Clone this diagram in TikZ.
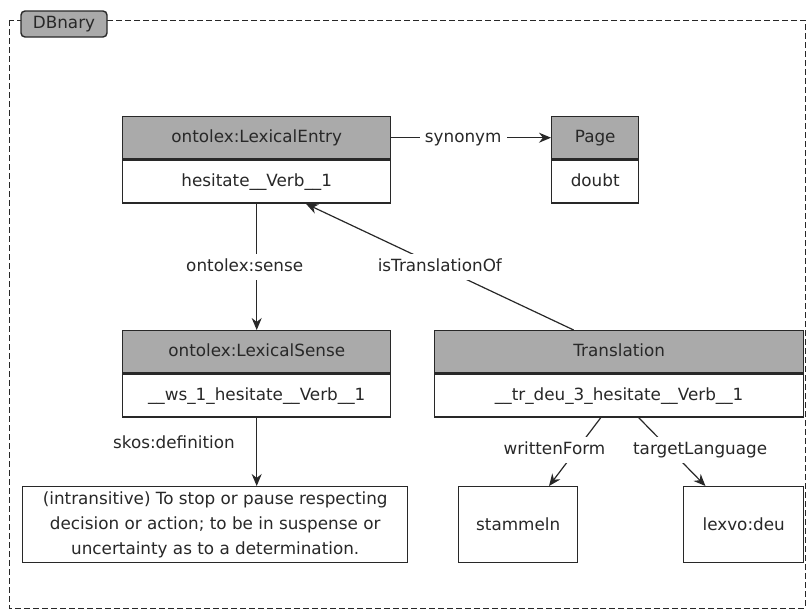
\documentclass[tikz,border=0pt]{standalone}
\usepackage{fontspec}
\setmainfont{DejaVu Sans}
\usetikzlibrary{arrows.meta,calc}
\definecolor{hdrgray}{RGB}{170,170,170}
\definecolor{inkgray}{RGB}{40,40,40}
\begin{document}
\begin{tikzpicture}[x=1pt,y=-1pt,
  font=\fontsize{16.8}{25}\selectfont,
  boxline/.style={draw=inkgray, line width=1.4pt, inner sep=0pt, text=inkgray},
  hdr/.style={boxline, fill=hdrgray, minimum height=42pt, anchor=north west, text height=12.5pt, text depth=3.5pt},
  body/.style={boxline, fill=white, minimum height=43pt, anchor=north, text height=12.5pt, text depth=3.5pt},
  leaf/.style={boxline, fill=white, minimum height=76pt, anchor=north west, align=center},
  link/.style={draw=inkgray, line width=1.2pt},
  tip/.style={-{Stealth[length=12pt,width=10pt]}},
  lbl/.style={fill=white, inner sep=5pt, text=inkgray, text height=12.5pt, text depth=3.5pt}]
\useasboundingbox (0,0) rectangle (806,614);

% dashed container frame and its tab
\draw[draw=inkgray, line width=1pt, dash pattern=on 6pt off 3pt] (9,20) rectangle (805,608);
\node[boxline, fill=hdrgray, rounded corners=4pt, minimum width=86pt, minimum height=26pt,
      text height=12.5pt, text depth=3.5pt] (tab) at (64,24) {DBnary};

% lexical entry
\node[hdr, minimum width=268pt] (leh) at (122,116) {ontolex:LexicalEntry};
\node[body, minimum width=268pt] (leb) at (leh.south) {hesitate\_\_Verb\_\_1};

% page
\node[hdr, minimum width=87pt] (pgh) at (551,116) {Page};
\node[body, minimum width=87pt] (pgb) at (pgh.south) {doubt};

% lexical sense
\node[hdr, minimum width=268pt] (lsh) at (122,330) {ontolex:LexicalSense};
\node[body, minimum width=268pt] (lsb) at (lsh.south) {\_\_ws\_1\_hesitate\_\_Verb\_\_1};

% translation
\node[hdr, minimum width=369pt] (trh) at (434,330) {Translation};
\node[body, minimum width=369pt] (trb) at (trh.south) {\_\_tr\_deu\_3\_hesitate\_\_Verb\_\_1};

% leaves
\node[leaf, minimum width=385pt] (def) at (22,486)
  {(intransitive) To stop or pause respecting\\decision or action; to be in suspense or\\uncertainty as to a determination.};
\node[leaf, minimum width=119pt] (wf) at (458,486) {stammeln};
\node[leaf, minimum width=120pt] (lang) at (683,486) {lexvo:deu};

% attachment points
\coordinate (trtop) at ($(trh.north west)!0.377!(trh.north east)$);
\coordinate (lebot) at ($(leb.south west)!0.683!(leb.south east)$);
\coordinate (trwf) at ($(trb.south west)!0.45!(trb.south east)$);
\coordinate (trlang) at ($(trb.south west)!0.553!(trb.south east)$);
\coordinate (wftop) at ($(wf.north west)!0.756!(wf.north east)$);
\coordinate (langtop) at ($(lang.north west)!0.185!(lang.north east)$);

% connectors
\draw[link,tip] (leh.east) -- node[lbl, pos=0.45] {synonym} (pgh.west);
\draw[link,tip] (leb.south) -- node[lbl, xshift=-12pt] {ontolex:sense} (lsh.north);
\draw[link,tip] (trtop) -- node[lbl, pos=0.5] {isTranslationOf} (lebot);
\draw[link,tip] (lsb.south) -- node[pos=0.38, left, xshift=-18pt, text=inkgray, text height=12.5pt, text depth=3.5pt] {skos:definition} (lsb.south |- def.north);
\draw[link,tip] (trwf) -- node[lbl, pos=0.47, xshift=-22pt] {writtenForm} (wftop);
\draw[link,tip] (trlang) -- node[lbl, pos=0.47, xshift=30pt] {targetLanguage} (langtop);
\end{tikzpicture}
\end{document}
